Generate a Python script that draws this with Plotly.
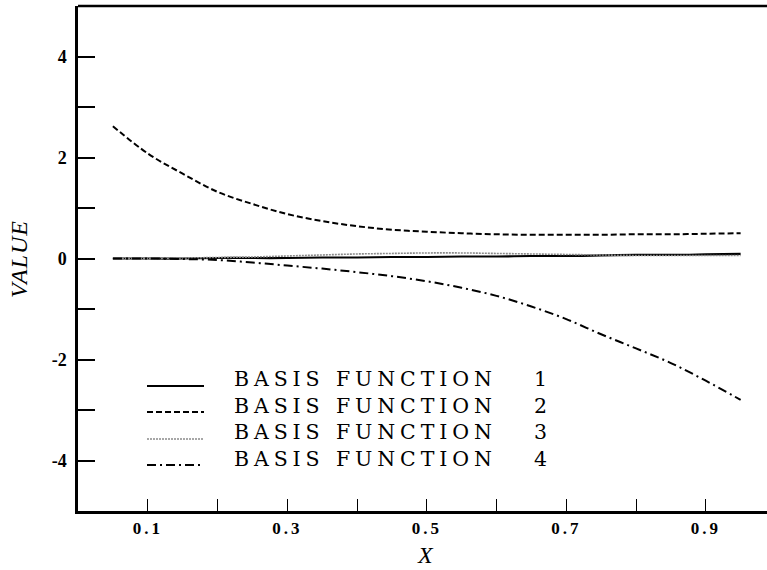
import plotly.graph_objects as go

x_vals = [0.05, 0.10, 0.15, 0.20, 0.25, 0.30, 0.35, 0.40, 0.45, 0.50,
          0.55, 0.60, 0.65, 0.70, 0.75, 0.80, 0.85, 0.90, 0.95]
basis_1 = [0.00, 0.00, 0.00, 0.01, 0.01, 0.01, 0.02, 0.02, 0.03, 0.03,
           0.04, 0.04, 0.05, 0.05, 0.06, 0.07, 0.07, 0.08, 0.09]
basis_2 = [2.62, 2.08, 1.68, 1.32, 1.08, 0.88, 0.74, 0.64, 0.57, 0.53,
           0.50, 0.48, 0.47, 0.47, 0.47, 0.48, 0.48, 0.49, 0.50]
basis_3 = [0.00, 0.00, 0.01, 0.02, 0.03, 0.05, 0.07, 0.09, 0.10, 0.11,
           0.11, 0.10, 0.09, 0.08, 0.07, 0.06, 0.06, 0.06, 0.06]
basis_4 = [0.00, 0.00, -0.01, -0.03, -0.08, -0.14, -0.20, -0.27, -0.35, -0.45,
           -0.58, -0.74, -0.95, -1.20, -1.50, -1.78, -2.07, -2.42, -2.80]

legend_label = "BASIS FUNCTION"
legend_numbers = ["1", "2", "3", "4"]
x_tickvals = [0.1, 0.2, 0.3, 0.4, 0.5, 0.6, 0.7, 0.8, 0.9]
x_ticklabels = ["0.1", "", "0.3", "", "0.5", "", "0.7", "", "0.9"]
y_tickvals = [-4, -3, -2, -1, 0, 1, 2, 3, 4]
y_ticklabels = ["-4", "", "-2", "", "0", "", "2", "", "4"]

styles = [
    dict(color="black", width=2.2, dash="solid"),
    dict(color="black", width=2, dash="6px,3px"),
    dict(color="#8a8a8a", width=1.6, dash="2px,1px"),
    dict(color="black", width=2, dash="9px,4px,2px,4px"),
]
series = [basis_1, basis_2, basis_3, basis_4]

# pixel helpers for plot-area paper coordinates
L, R, T, B = 78, 767, 6, 511
def px(xp):
    return (xp - L) / (R - L)
def py(yp):
    return (B - yp) / (B - T)

fig = go.Figure()
for ys, st, n in zip(series, styles, legend_numbers):
    fig.add_trace(go.Scatter(x=x_vals, y=ys, mode="lines",
                             name=legend_label + " " + n,
                             line=dict(color=st["color"], width=st["width"],
                                       dash=st["dash"], shape="spline"),
                             showlegend=False))

# manual legend: key lines
key_y = [386, 412, 439, 465]
for st, ky in zip(styles, key_y):
    fig.add_shape(type="line", xref="paper", yref="paper",
                  x0=px(147), x1=px(204), y0=py(ky), y1=py(ky),
                  line=dict(color=st["color"], width=st["width"], dash=st["dash"]))

leg_center = 419
txt = "<br>".join('<span style="letter-spacing:4.9px">' + legend_label + '</span>'
                  for _ in legend_numbers)
fig.add_annotation(xref="paper", yref="paper", x=px(232), y=py(leg_center),
                   xanchor="left", yanchor="middle", showarrow=False, align="left",
                   text=txt,
                   font=dict(family="DejaVu Serif", size=20.5, color="black"))
num_txt = "<br>".join(legend_numbers)
fig.add_annotation(xref="paper", yref="paper", x=px(540), y=py(leg_center),
                   xanchor="center", yanchor="middle", showarrow=False, align="center",
                   text=num_txt,
                   font=dict(family="DejaVu Serif", size=20.5, color="black"))

# top border
fig.add_shape(type="line", xref="paper", yref="paper", x0=0, x1=1, y0=1, y1=1,
              line=dict(color="black", width=2.5))

# axis titles
fig.add_annotation(xref="paper", yref="paper", x=px(425), y=py(555),
                   xanchor="center", yanchor="middle", showarrow=False, text="X",
                   font=dict(family="Liberation Serif", size=24, color="black", style="italic"))
fig.add_annotation(xref="paper", yref="paper", x=px(19), y=py(259),
                   xanchor="center", yanchor="middle", showarrow=False, textangle=-90,
                   text='<span style="letter-spacing:1px">VALUE</span>',
                   font=dict(family="Liberation Serif", size=24, color="black", style="italic"))

x_ticktext = [('<span style="letter-spacing:3px">' + t + '</span>') if t else "" for t in x_ticklabels]

fig.update_layout(
    width=767, height=570,
    margin=dict(l=L, r=0, t=T, b=570 - B),
    paper_bgcolor="white", plot_bgcolor="white",
    xaxis=dict(range=[0, (R - L) / 697.5], showgrid=False, zeroline=False,
               showline=True, linecolor="black", linewidth=2.5,
               ticks="inside", ticklen=12, tickwidth=1.2, tickcolor="black",
               tickvals=x_tickvals, ticktext=x_ticktext, ticklabelstandoff=0,
               tickfont=dict(family="Liberation Serif", size=17, color="black", weight="bold")),
    yaxis=dict(range=[-5, 5], showgrid=False, zeroline=False,
               showline=True, linecolor="black", linewidth=2.5,
               ticks="inside", ticklen=17, tickwidth=2, tickcolor="black",
               tickvals=y_tickvals, ticktext=y_ticklabels, ticklabelstandoff=5,
               tickfont=dict(family="Liberation Serif", size=18, color="black", weight="bold")),
)

fig.write_html("out.html")
